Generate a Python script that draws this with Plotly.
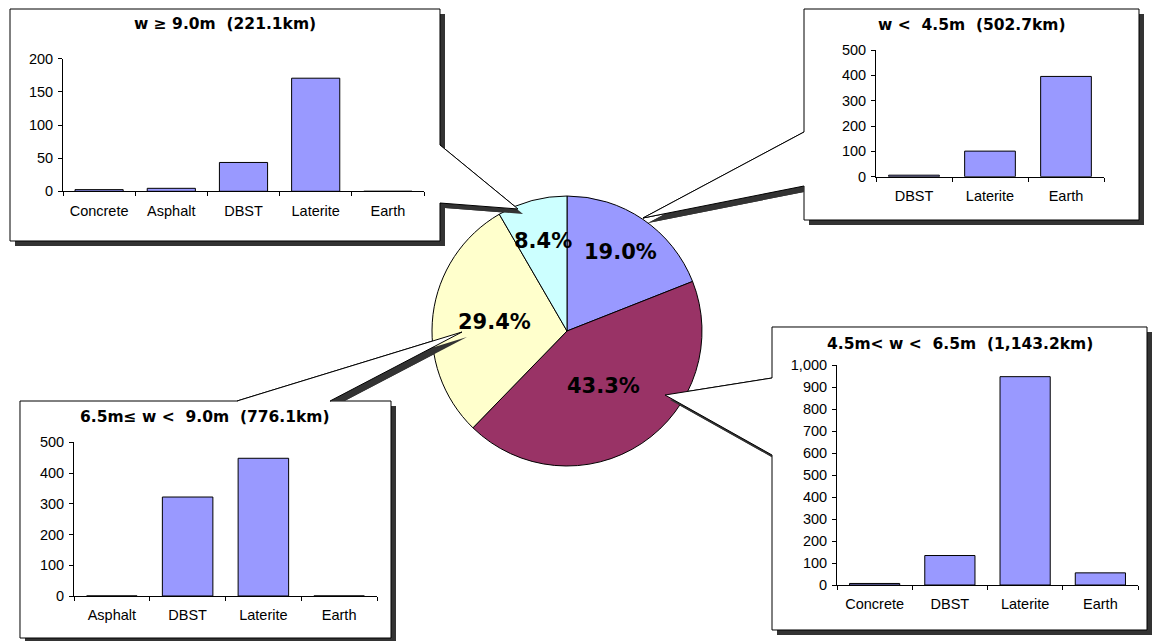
import math
import plotly.graph_objects as go

W, H = 1152, 641

# ---------------- data ----------------
pie_labels = ["w < 4.5m", "4.5m < w < 6.5m", "6.5m ≤ w < 9.0m", "w ≥ 9.0m"]
pie_km = [502.7, 1143.2, 776.1, 221.1]
pie_colors = ["#9999FF", "#993366", "#FFFFCC", "#CCFFFF"]

cats_a = ["Concrete", "Asphalt", "DBST", "Laterite", "Earth"]
vals_a = [2.5, 4.5, 43.5, 170.6, 0]
cats_b = ["DBST", "Laterite", "Earth"]
vals_b = [6, 101, 395.7]
cats_c = ["Concrete", "DBST", "Laterite", "Earth"]
vals_c = [7, 134, 947, 55.2]
cats_d = ["Asphalt", "DBST", "Laterite", "Earth"]
vals_d = [0, 322, 448, 0]

titles = ["w ≥ 9.0m\u00a0\u00a0(221.1km)",
          "w <\u00a0\u00a04.5m\u00a0\u00a0(502.7km)",
          "4.5m< w <\u00a0\u00a06.5m\u00a0\u00a0(1,143.2km)",
          "6.5m≤ w <\u00a0\u00a09.0m\u00a0\u00a0(776.1km)"]

# ---------------- helpers ----------------
def px(x):
    return x / W

def py(y):
    return 1 - y / H

def path(pts):
    return "M " + " L ".join(f"{px(x):.6f},{py(y):.6f}" for x, y in pts) + " Z"

def clip(poly, axis, val, keep_greater):
    out = []
    n = len(poly)
    def inside(p):
        return p[axis] >= val if keep_greater else p[axis] <= val
    for i in range(n):
        cur, nxt = poly[i], poly[(i + 1) % n]
        ci, ni = inside(cur), inside(nxt)
        if ci:
            out.append(cur)
        if ci != ni:
            t = (val - cur[axis]) / (nxt[axis] - cur[axis])
            out.append((cur[0] + t * (nxt[0] - cur[0]), cur[1] + t * (nxt[1] - cur[1])))
    return out

# ---------------- geometry (style) ----------------
pie_c = (567, 331)
pie_r = 135
SH = 5  # shadow offset
shadow_col = "#333333"

callouts = [
    dict(pts=[(10, 9), (440, 9), (440, 145), (518, 209), (440, 203), (440, 241), (10, 241)],
         tail=[(440, 145), (518, 209), (440, 203)], clip=(0, 440, True)),
    dict(pts=[(804, 9), (1139, 9), (1139, 220), (804, 220), (804, 186), (643, 218), (804, 132)],
         tail=[(804, 132), (643, 218), (804, 186)], clip=(0, 804, False)),
    dict(pts=[(772, 327), (1147, 327), (1147, 630), (772, 630), (772, 455), (665, 395), (772, 378)],
         tail=[(772, 378), (665, 395), (772, 455)], clip=(0, 772, False)),
    dict(pts=[(20, 401), (237, 401), (462, 332), (330, 401), (391, 401), (391, 638), (20, 638)],
         tail=[(237, 401), (462, 332), (330, 401)], clip=(1, 401, False)),
]

title_pos = [(225, 24), (972, 25), (960, 344), (205, 417)]

# plot areas: (x_left, x_right, y_zero_px, y_top_px, ymax, dtick)
areas = [
    (63, 424, 191.3, 58.7, 200, 50),
    (876, 1104, 176.7, 50, 500, 100),
    (837, 1138, 585, 365, 1000, 100),
    (74, 377, 596, 442.3, 500, 100),
]

label_frac = [0.71, 0.49, 0.54, 0.69]

tick_font = dict(family="Liberation Sans, Arial, sans-serif", size=14.5, color="black")
title_font = dict(family="DejaVu Sans, sans-serif", size=15.5, color="black", weight="bold")
pct_font = dict(family="DejaVu Sans, sans-serif", size=21, color="black", weight="bold")

fig = go.Figure()

fig.add_trace(go.Pie(
    values=pie_km, labels=pie_labels, sort=False, direction="clockwise", rotation=0,
    marker=dict(colors=pie_colors, line=dict(color="black", width=1)),
    textinfo="none", hoverinfo="skip", showlegend=False,
    domain=dict(x=[px(pie_c[0] - pie_r), px(pie_c[0] + pie_r)],
                y=[py(pie_c[1] + pie_r), py(pie_c[1] - pie_r)]),
))

bar_sets = [(cats_a, vals_a), (cats_b, vals_b), (cats_c, vals_c), (cats_d, vals_d)]
layout_axes = {}
for i, ((cats, vals), area) in enumerate(zip(bar_sets, areas)):
    n = "" if i == 0 else str(i + 1)
    fig.add_trace(go.Bar(
        x=cats, y=vals, xaxis="x" + n, yaxis="y" + n,
        marker=dict(color="#9999FF", line=dict(color="black", width=1)),
        showlegend=False, hoverinfo="skip",
    ))
    xl, xr, y0, yt, ymax, dt = area
    layout_axes["xaxis" + n] = dict(
        domain=[px(xl), px(xr)], anchor="y" + n, showline=True, linecolor="black",
        linewidth=1, ticks="outside", tickson="boundaries", ticklen=4, tickcolor="black",
        showgrid=False, zeroline=False, tickfont=tick_font, automargin=False,
        fixedrange=True, ticklabelstandoff=6)
    layout_axes["yaxis" + n] = dict(
        domain=[py(y0), py(yt)], anchor="x" + n, range=[0, ymax], dtick=dt,
        showline=True, linecolor="black", linewidth=1, ticks="outside", ticklen=4,
        tickcolor="black", showgrid=False, zeroline=False, tickfont=tick_font,
        tickformat=",d", automargin=False, fixedrange=True, ticklabelstandoff=2)

shapes = []
# boxes (below traces)
for c in callouts:
    sh = [(x + SH, y + SH) for x, y in c["pts"]]
    shapes.append(dict(type="path", path=path(sh), xref="paper", yref="paper",
                       fillcolor=shadow_col, line=dict(width=0), layer="below"))
    shapes.append(dict(type="path", path=path(c["pts"]), xref="paper", yref="paper",
                       fillcolor="white", line=dict(color="black", width=1), layer="below"))
# tails over the pie
for c in callouts:
    axis, val, kg = c["clip"]
    tsh = clip([(x + SH, y + SH) for x, y in c["tail"]], axis, val, kg)
    shapes.append(dict(type="path", path=path(tsh), xref="paper", yref="paper",
                       fillcolor=shadow_col, line=dict(width=0), layer="above"))
    shapes.append(dict(type="path", path=path(c["tail"]), xref="paper", yref="paper",
                       fillcolor="white", line=dict(width=0), layer="above"))
    a, t, b = c["tail"]
    for p in (a, b):
        shapes.append(dict(type="line", x0=px(p[0]), y0=py(p[1]), x1=px(t[0]), y1=py(t[1]),
                           xref="paper", yref="paper", line=dict(color="black", width=1),
                           layer="above"))

annotations = []
for txt, (cx, cy) in zip(titles, title_pos):
    annotations.append(dict(text=txt, x=px(cx), y=py(cy), xref="paper", yref="paper",
                            xanchor="center", yanchor="middle", showarrow=False, font=title_font))

total = sum(pie_km)
cum = 0.0
for v, f in zip(pie_km, label_frac):
    mid = (cum + v / 2) / total * 2 * math.pi
    cum += v
    lx = pie_c[0] + f * pie_r * math.sin(mid)
    ly = pie_c[1] - f * pie_r * math.cos(mid)
    annotations.append(dict(text=f"{v / total * 100:.1f}%", x=px(lx), y=py(ly),
                            xref="paper", yref="paper", xanchor="center", yanchor="middle",
                            showarrow=False, font=pct_font))

fig.update_layout(
    width=W, height=H, autosize=False, template="none",
    margin=dict(l=0, r=0, t=0, b=0, pad=0),
    paper_bgcolor="white", plot_bgcolor="rgba(0,0,0,0)",
    bargap=0.333, showlegend=False,
    shapes=shapes, annotations=annotations,
    **layout_axes,
)

fig.write_html("out.html")
